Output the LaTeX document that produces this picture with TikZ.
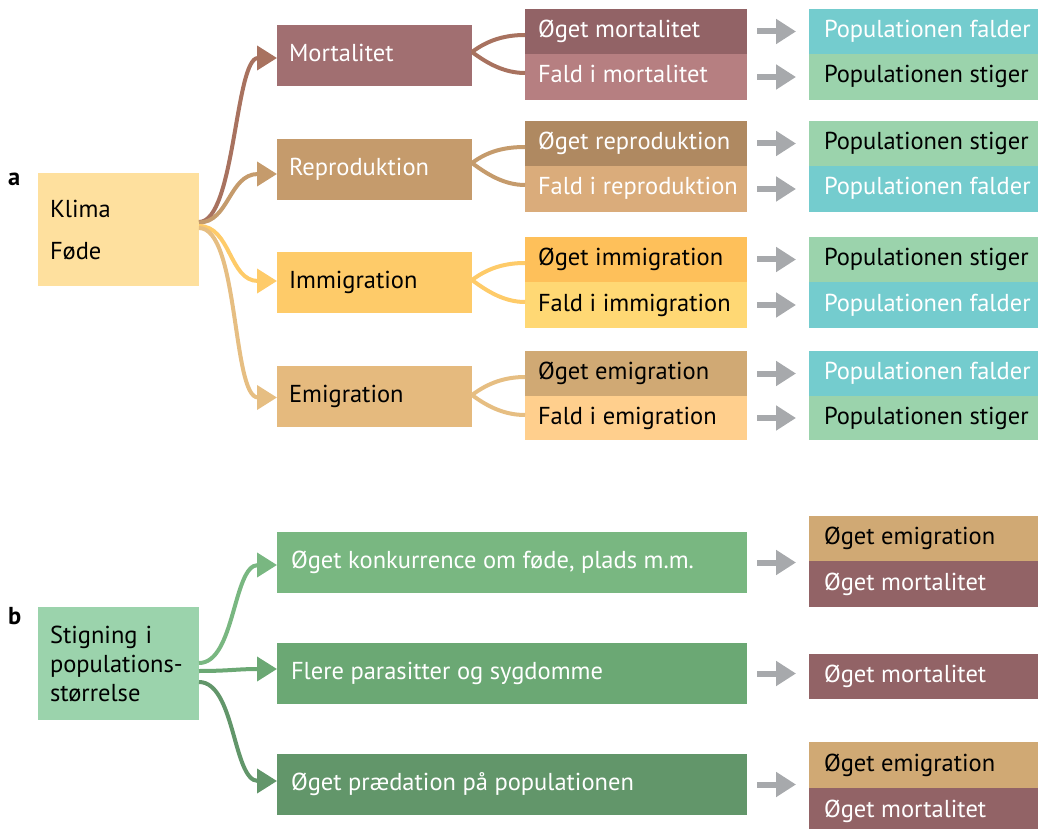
\documentclass[tikz,border=0pt]{standalone}
\usepackage{fontspec}
\setmainfont{PT Sans}
\usetikzlibrary{arrows.meta}
\definecolor{cKlima}{HTML}{FEE09E}
\definecolor{cMort}{HTML}{A16F71}
\definecolor{cMortL}{HTML}{A8725F}
\definecolor{cOM}{HTML}{926366}
\definecolor{cFM}{HTML}{B67F81}
\definecolor{cRep}{HTML}{C59B6C}
\definecolor{cOR}{HTML}{AF8961}
\definecolor{cFR}{HTML}{DAAC7B}
\definecolor{cImm}{HTML}{FECB69}
\definecolor{cOI}{HTML}{FEC05A}
\definecolor{cFI}{HTML}{FFD874}
\definecolor{cEmi}{HTML}{E5BA7E}
\definecolor{cEmiL}{HTML}{E6BE82}
\definecolor{cOE}{HTML}{D0A974}
\definecolor{cFE}{HTML}{FFCF8D}
\definecolor{cFalder}{HTML}{74CCCE}
\definecolor{cStiger}{HTML}{9BD3AC}
\definecolor{cG1}{HTML}{79B781}
\definecolor{cG2}{HTML}{6BA874}
\definecolor{cG3}{HTML}{62966A}
\definecolor{cgray}{HTML}{A7A9AC}
\newcommand\myfs{\fontsize{24.5}{29}\selectfont}
% single-line box: #1 left padding, #2 name, #3,#4 top-left corner, #5 width, #6 height
\newcommand\bx[9]{%
  \pgfmathsetmacro\tw{#5-2*#1}%
  \node[box, one, inner xsep=#1pt, minimum width=#5pt, minimum height=#6pt, fill=#7, text=#8] (#2) at (#3,#4) {\makebox[\tw pt][l]{#9}};}
% multi-line box
\newcommand\mbx[8]{%
  \pgfmathsetmacro\tw{#4-24}%
  \node[box, minimum width=#4pt, minimum height=#5pt, text width=\tw pt, fill=#6, text=#7] (#1) at (#2,#3) {#8};}
\begin{document}
\begin{tikzpicture}[x=1pt,y=-1pt,
  box/.style={rectangle, inner ysep=0pt, inner xsep=12pt, anchor=north west, align=left, font=\myfs, outer sep=0pt},
  one/.style={text height=17pt, text depth=5pt},
  link/.style={line width=4pt, -{Triangle[length=20pt,width=24pt]}},
  fan/.style={line width=4pt},
  garrow/.style={line width=6pt, draw=cgray, -{Triangle[length=20pt,width=24pt]}}]
\useasboundingbox (0,0) rectangle (1039,829);
% labels
\node[font=\myfs\bfseries, anchor=base west, inner sep=0pt] (la) at (8,186) {a};
\node[font=\myfs\bfseries, anchor=base west, inner sep=0pt] (lb) at (8,624) {b};
% part a
\mbx{klima}{38}{173}{161}{113}{cKlima}{black}{Klima\\[13pt]Føde}
\bx{12}{mort}{277}{25}{195}{61}{cMort}{white}{Mortalitet}
\bx{12}{rep}{277}{139}{195}{61}{cRep}{white}{Reproduktion}
\bx{12}{imm}{277}{252}{195}{61}{cImm}{black}{Immigration}
\bx{12}{emi}{277}{366}{195}{61}{cEmi}{black}{Emigration}
\bx{13}{om}{525}{9}{222}{45}{cOM}{white}{Øget mortalitet}
\bx{13}{fm}{525}{54}{222}{46}{cFM}{white}{Fald i mortalitet}
\bx{13}{or}{525}{121}{222}{45}{cOR}{white}{Øget reproduktion}
\bx{13}{fr}{525}{166}{222}{46}{cFR}{white}{Fald i reproduktion}
\bx{13}{oi}{525}{237}{222}{45}{cOI}{black}{Øget immigration}
\bx{13}{fi}{525}{282}{222}{46}{cFI}{black}{Fald i immigration}
\bx{13}{oe}{525}{351}{222}{45}{cOE}{black}{Øget emigration}
\bx{13}{fe}{525}{396}{222}{44}{cFE}{black}{Fald i emigration}
\bx{15}{pa1}{809}{9}{229}{45}{cFalder}{white}{Populationen falder}
\bx{15}{pa2}{809}{54}{229}{46}{cStiger}{black}{Populationen stiger}
\bx{15}{pa3}{809}{121}{229}{45}{cStiger}{black}{Populationen stiger}
\bx{15}{pa4}{809}{166}{229}{46}{cFalder}{white}{Populationen falder}
\bx{15}{pa5}{809}{237}{229}{45}{cStiger}{black}{Populationen stiger}
\bx{15}{pa6}{809}{282}{229}{46}{cFalder}{white}{Populationen falder}
\bx{15}{pa7}{809}{351}{229}{45}{cFalder}{white}{Populationen falder}
\bx{15}{pa8}{809}{396}{229}{44}{cStiger}{black}{Populationen stiger}
% links a
\draw[link, draw=cMortL] ([yshift=7.5pt]klima.east) .. controls +(36,0) and +(-42,0) .. ([yshift=-2.5pt]mort.west);
\draw[link, draw=cRep] ([yshift=7pt]klima.east) .. controls +(30,0) and +(-48,0) .. ([yshift=-4.5pt]rep.west);
\draw[link, draw=cImm] ([yshift=3.5pt]klima.east) .. controls +(32,0) and +(-48,0) .. ([yshift=1.5pt]imm.west);
\draw[link, draw=cEmiL] ([yshift=1.5pt]klima.east) .. controls +(40,0) and +(-45,0) .. ([yshift=-1pt]emi.west);
% fans
\draw[fan, draw=cMortL] ([yshift=3.5pt]mort.east) .. controls +(16,-12) and +(-20,0) .. ([yshift=-3.5pt]om.west);
\draw[fan, draw=cMortL] ([yshift=3.5pt]mort.east) .. controls +(16,12) and +(-20,0) .. ([yshift=4pt]fm.west);
\draw[fan, draw=cRep] ([yshift=6.5pt]rep.east) .. controls +(16,-12) and +(-20,0) .. ([yshift=-3.5pt]or.west);
\draw[fan, draw=cRep] ([yshift=6.5pt]rep.east) .. controls +(16,12) and +(-20,0) .. ([yshift=4pt]fr.west);
\draw[fan, draw=cImm] ([yshift=2.5pt]imm.east) .. controls +(16,-12) and +(-20,0) .. ([yshift=-3.5pt]oi.west);
\draw[fan, draw=cImm] ([yshift=2.5pt]imm.east) .. controls +(16,12) and +(-20,0) .. ([yshift=3pt]fi.west);
\draw[fan, draw=cEmiL] ([yshift=1.5pt]emi.east) .. controls +(16,-12) and +(-20,0) .. ([yshift=-3.5pt]oe.west);
\draw[fan, draw=cEmiL] ([yshift=1.5pt]emi.east) .. controls +(16,12) and +(-20,0) .. ([yshift=3pt]fe.west);
% gray arrows a
\foreach \m/\p in {om/pa1, fm/pa2, or/pa3, fr/pa4, oi/pa5, fi/pa6, oe/pa7, fe/pa8}{
  \draw[garrow] ([xshift=10pt]\m.east) -- ([xshift=-13pt]\p.west);
}
% part b
\mbx{stig}{38}{607}{161}{113}{cStiger}{black}{Stigning i\\populations-\\størrelse}
\bx{14}{g1}{277}{532}{470}{61}{cG1}{white}{Øget konkurrence om føde, plads m.m.}
\bx{14}{g2}{277}{643}{470}{61}{cG2}{white}{Flere parasitter og sygdomme}
\bx{14}{g3}{277}{754}{470}{61}{cG3}{white}{Øget prædation på populationen}
\bx{15}{r1}{809}{516}{229}{45}{cOE}{black}{Øget emigration}
\bx{15}{r2}{809}{561}{229}{46}{cOM}{white}{Øget mortalitet}
\bx{15}{r3}{809}{654}{229}{45}{cOM}{white}{Øget mortalitet}
\bx{15}{r4}{809}{742}{229}{46}{cOE}{black}{Øget emigration}
\bx{15}{r5}{809}{788}{229}{46}{cOM}{white}{Øget mortalitet}
\draw[link, draw=cG1] ([yshift=0.5pt]stig.east) .. controls +(36,0) and +(-44,0) .. ([yshift=-2.5pt]g1.west);
\draw[link, draw=cG2] ([yshift=-7.5pt]stig.east) .. controls +(30,0) and +(-40,0) .. ([yshift=4.5pt]g2.west);
\draw[link, draw=cG3] ([yshift=-18.5pt]stig.east) .. controls +(36,0) and +(-44,0) .. ([yshift=3.5pt]g3.west);
\coordinate (t1) at (g1.east -| r1.west);
\coordinate (t2) at (g2.east -| r3.west);
\coordinate (t3) at (g3.east -| r4.west);
\draw[garrow] ([xshift=10pt]g1.east) -- ([xshift=-13pt]t1);
\draw[garrow] ([xshift=10pt]g2.east) -- ([xshift=-13pt]t2);
\draw[garrow] ([xshift=10pt]g3.east) -- ([xshift=-13pt]t3);
\end{tikzpicture}
\end{document}
